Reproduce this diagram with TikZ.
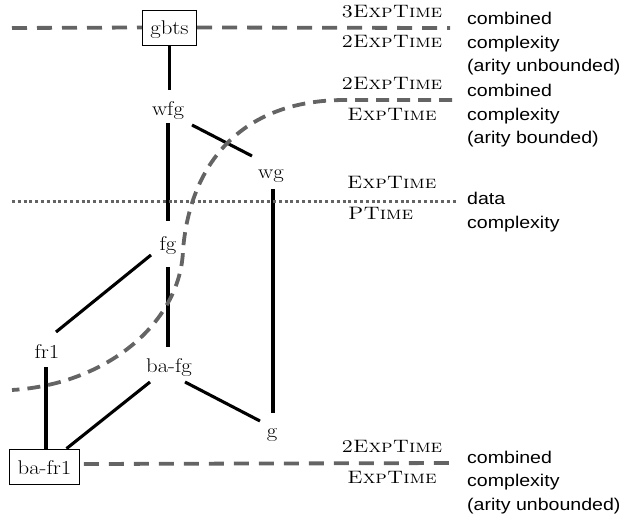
\documentclass[tikz,border=0pt]{standalone}
\usepackage{fontspec}
\newfontfamily\notefont{Liberation Sans}
\usetikzlibrary{calc}
\definecolor{bordergray}{RGB}{100,100,100}
% slightly widened lettering
\newcommand\wide[1]{\scalebox{1.15}[1]{#1}}
\begin{document}
\begin{tikzpicture}[x=1pt,y=-1pt,
  every node/.style={font=\fontsize{19.8}{22}\selectfont},
  cls/.style={anchor=base, inner sep=5pt, text height=13.5pt, text depth=4pt},
  boxed/.style={anchor=base, draw, line width=0.8pt, fill=white,
    inner xsep=8pt, inner ysep=6pt, text height=19pt, text depth=4pt},
  link/.style={line width=3.1pt},
  bound/.style={draw=bordergray, line width=3.8pt, dash pattern=on 15pt off 10pt},
  curvebound/.style={draw=bordergray, line width=3.8pt, dash pattern=on 13pt off 8pt},
  dotline/.style={draw=bordergray, line width=3pt, dash pattern=on 3pt off 2.8pt},
  cx/.style={font=\fontsize{18}{22}\selectfont\scshape, inner sep=0pt, anchor=base},
  cxl/.style={cx, anchor=base west},
  note/.style={font=\fontsize{17}{23.5}\selectfont\notefont, anchor=base west, inner sep=0pt}
]
\useasboundingbox (0,0) rectangle (622,516);

% class nodes (placed by baseline)
\node[boxed] (gbts)  at (169.5,35) {\wide{gbts}};
\node[cls]   (wfg)   at (168,116)  {\wide{wfg}};
\node[cls]   (wg)    at (271,179)  {\wide{wg}};
\node[cls]   (fg)    at (168,251)  {\wide{fg}};
\node[cls]   (fr1)   at (47,358)   {\wide{fr1}};
\node[cls]   (bafg)  at (169,372)  {\wide{ba-fg}};
\node[cls]   (g)     at (272,437)  {\wide{g}};
\node[boxed] (bafr1) at (44.5,474) {\wide{ba-fr1}};

% inclusion edges
\draw[link] (gbts.south) -- ($(wfg.base)+(1.5,-26)$);
\draw[link] ($(wfg.base)+(0,7)$) -- ($(fg.base)+(0,-30)$);
\draw[link] ($(wfg.base)+(24,9)$) -- ($(wg.base)+(-19,-23)$);
\draw[link] ($(wg.base)+(2,10)$) -- ($(g.base)+(1,-24)$);
\draw[link] ($(fg.base)+(-17,4)$) -- ($(fr1.base)+(9,-26)$);
\draw[link] ($(fg.base)+(0,16)$) -- ($(bafg.base)+(-1,-25)$);
\draw[link] ($(bafg.base)+(16,10)$) -- ($(g.base)+(-12,-16)$);
\draw[link] ($(bafg.base)+(-19,10)$) -- ($(bafr1.north)+(22,0)$);
\draw[link] ($(fr1.base)+(-1,9)$) -- ($(bafr1.north)+(1.5,0)$);

% complexity boundaries
\coordinate (topL) at (12,28);
\coordinate (topR) at (450,28);
\draw[bound] (topL) -- (gbts.west);
\draw[bound] (gbts.east) -- (topR);

\coordinate (arR) at (452,100);
\coordinate (arL) at (12,390);
\draw[curvebound] (arR) -- (345,100) .. controls (240,100) and (190,165) .. (183,250)
  .. controls (181,320) and (110,384) .. (arL);

\coordinate (dL) at (12,202);
\coordinate (dR) at (457,202);
\draw[dotline] (dL) -- (dR);

\coordinate (botL) at ($(bafr1.east)+(4,-2.5)$);
\coordinate (botR) at (455,463);
\draw[bound] (botL) -- (botR);

% complexity labels
\node[cx]  (c1) at (392,18)  {\wide{3ExpTime}};
\node[cx]  (c2) at (392,48)  {\wide{2ExpTime}};
\node[cx]  (c3) at (392,90)  {\wide{2ExpTime}};
\node[cx]  (c4) at (392,121) {\wide{ExpTime}};
\node[cxl] (c5) at (347,189) {\wide{ExpTime}};
\node[cxl] (c6) at (348,220) {\wide{PTime}};
\node[cx]  (c7) at (392,452) {\wide{2ExpTime}};
\node[cx]  (c8) at (392,483) {\wide{ExpTime}};

% notes on the kind of complexity
\node[note] (n1) at (467,25)  {\wide{\begin{tabular}[t]{@{}l@{}}combined\\complexity\\(arity unbounded)\end{tabular}}};
\node[note] (n2) at (467,97)  {\wide{\begin{tabular}[t]{@{}l@{}}combined\\complexity\\(arity bounded)\end{tabular}}};
\node[note] (n3) at (467,205) {\wide{\begin{tabular}[t]{@{}l@{}}data\\complexity\end{tabular}}};
\node[note] (n4) at (467,463) {\wide{\begin{tabular}[t]{@{}l@{}}combined\\complexity\\(arity unbounded)\end{tabular}}};
\end{tikzpicture}
\end{document}
